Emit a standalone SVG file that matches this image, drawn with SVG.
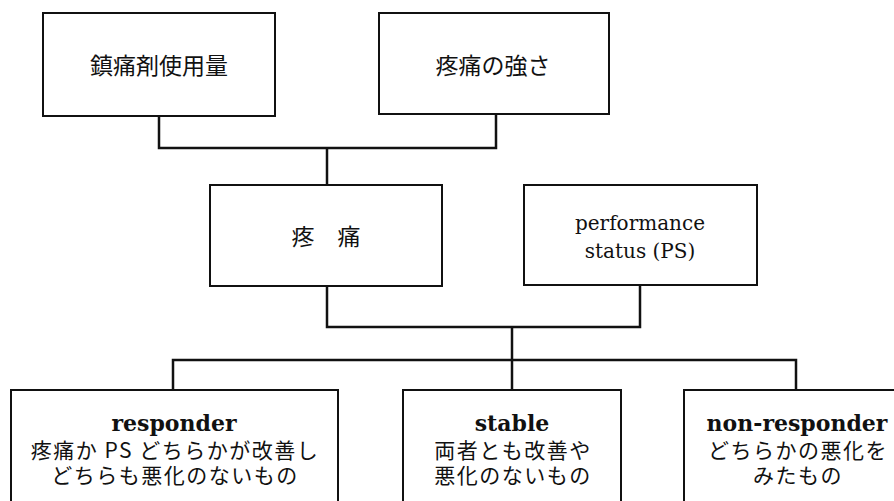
<svg xmlns="http://www.w3.org/2000/svg" width="894" height="501" viewBox="0 0 894 501">
<style>
.box{fill:#fff;stroke:#111;stroke-width:2}
.conn{fill:none;stroke:#111;stroke-width:2.5}
.jp{font-family:"Noto Sans CJK JP","Noto Sans",sans-serif;font-size:23px;fill:#111;text-anchor:middle}
.jps{font-family:"Noto Sans CJK JP","Noto Sans",sans-serif;font-size:21px;letter-spacing:1.5px;fill:#111;text-anchor:middle}
.en{font-family:"DejaVu Serif","Liberation Serif",serif;font-size:20px;fill:#111;text-anchor:middle}
.enb{font-family:"DejaVu Serif","Liberation Serif",serif;font-size:22px;font-weight:bold;fill:#111;text-anchor:middle}
</style>
<rect width="894" height="501" fill="#fff"/>
<g id="connectors">
<path class="conn" d="M159,116 V148 H496 V114"/>
<path class="conn" d="M327,148 V185"/>
<path class="conn" d="M327,286 V327 H640 V285"/>
<path class="conn" d="M512,327 V390"/>
<path class="conn" d="M173,390 V360 H796 V390"/>
</g>
<g id="n1">
<rect class="box" x="43" y="13" width="232" height="103"/>
<text class="jp" x="159" y="74">鎮痛剤使用量</text>
</g>
<g id="n2">
<rect class="box" x="379" y="13" width="230" height="101"/>
<text class="jp" x="493" y="74">疼痛の強さ</text>
</g>
<g id="n3">
<rect class="box" x="210" y="185" width="232" height="101"/>
<text class="jp" x="326" y="245">疼　痛</text>
</g>
<g id="n4">
<rect class="box" x="524" y="185" width="233" height="100"/>
<text class="en" x="640" y="230">performance<tspan x="640" y="258">status (PS)</tspan></text>
</g>
<g id="n5">
<rect class="box" x="11" y="390" width="327" height="130"/>
<text class="enb" x="174" y="431">responder</text>
<text class="jps" x="175" y="458">疼痛か PS どちらかが改善し<tspan x="175" y="483">どちらも悪化のないもの</tspan></text>
</g>
<g id="n6">
<rect class="box" x="403" y="390" width="218" height="130"/>
<text class="enb" x="512" y="431">stable</text>
<text class="jps" x="513" y="458">両者とも改善や<tspan x="513" y="483">悪化のないもの</tspan></text>
</g>
<g id="n7">
<rect class="box" x="684" y="390" width="230" height="130"/>
<text class="enb" x="797" y="431">non-responder</text>
<text class="jps" x="798" y="458">どちらかの悪化を<tspan x="798" y="483">みたもの</tspan></text>
</g>
</svg>
